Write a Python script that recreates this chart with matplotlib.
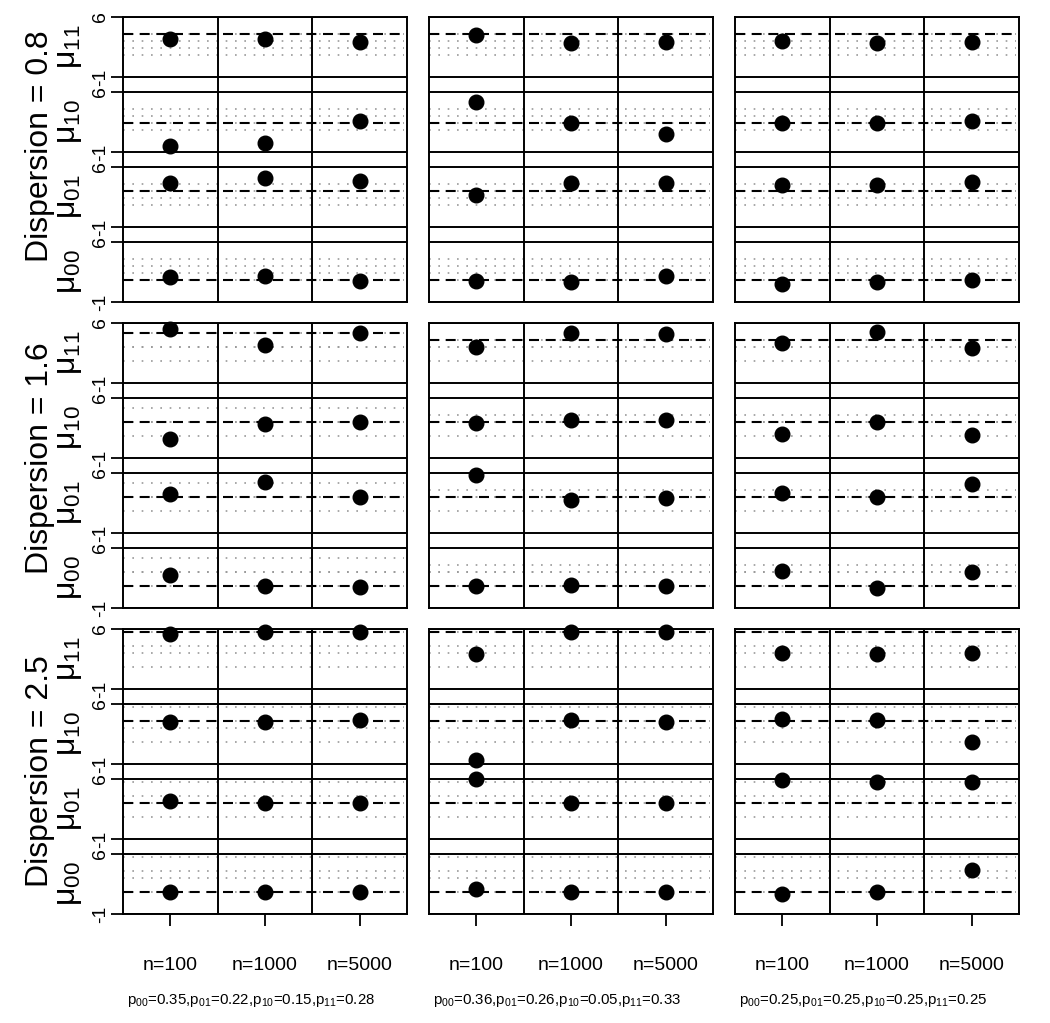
import matplotlib
matplotlib.use("Agg")
import matplotlib.pyplot as plt
import matplotlib.transforms as mtransforms

plt.rcParams["font.family"] = ["Liberation Sans", "DejaVu Sans"]
plt.rcParams["mathtext.fontset"] = "custom"
plt.rcParams["mathtext.rm"] = "Liberation Sans"

# labels
dispersions = ["0.8", "1.6", "2.5"]
n_labels = ["n=100", "n=1000", "n=5000"]
mu_labels = ["00", "01", "10", "11"]
configs = [
    ["0.35", "0.22", "0.15", "0.28"],
    ["0.36", "0.26", "0.05", "0.33"],
    ["0.25", "0.25", "0.25", "0.25"],
]

# true values, order: mu00, mu01, mu10, mu11
truth_08 = [[1.62, 3.2, 2.4, 4.02], [1.62, 3.2, 2.4, 4.02], [1.62, 3.2, 2.4, 4.02]]
truth_16 = [[1.62, 3.2, 3.2, 4.82], [1.62, 3.2, 3.2, 4.02], [1.62, 3.2, 3.2, 4.02]]
truth_25 = [[1.62, 3.2, 4.02, 5.64], [1.62, 3.2, 4.02, 5.64], [1.62, 3.2, 4.02, 5.64]]

# estimates: rows mu00, mu01, mu10, mu11; columns n=100, 1000, 5000
est_08_a = [[1.87, 1.98, 1.47], [4.15, 4.74, 4.31], [-0.30, 0.02, 2.57], [3.40, 3.40, 3.05]]
est_08_b = [[1.47, 1.39, 1.98], [2.77, 4.11, 4.11], [4.78, 2.34, 1.08], [3.91, 2.93, 3.05]]
est_08_c = [[1.08, 1.28, 1.59], [3.95, 3.91, 4.23], [2.34, 2.42, 2.66], [3.20, 2.93, 3.13]]

est_16_a = [[2.81, 1.59, 1.47], [3.60, 4.94, 3.17], [1.24, 2.93, 3.24], [5.29, 3.40, 4.82]]
est_16_b = [[1.59, 1.67, 1.59], [5.72, 2.85, 3.13], [3.05, 3.44, 3.40], [3.24, 4.78, 4.70]]
est_16_c = [[3.32, 1.39, 3.24], [3.72, 3.17, 4.74], [1.75, 3.20, 1.67], [3.64, 4.98, 3.13]]

est_25_a = [[1.60, 1.60, 1.60], [3.47, 3.24, 3.24], [3.90, 3.90, 4.09], [5.42, 5.65, 5.65]]
est_25_b = [[1.95, 1.60, 1.60], [6.00, 3.20, 3.20], [-0.50, 4.10, 3.95], [3.08, 5.65, 5.65]]
est_25_c = [[1.28, 1.55, 4.19], [5.92, 5.65, 5.65], [4.30, 4.15, 1.59], [3.24, 3.13, 3.17]]

truths = [truth_08, truth_16, truth_25]
estimates = [[est_08_a, est_08_b, est_08_c],
             [est_16_a, est_16_b, est_16_c],
             [est_25_a, est_25_b, est_25_c]]

W, H = 1050, 1023
fig = plt.figure(figsize=(W / 100, H / 100), dpi=100)

lefts = [123, 429, 735]
tops = [17, 323, 629]
pw, ph = 284, 285
ylo, yhi = -1, 6
gap = 1.75
step = (yhi - ylo) + gap
disp_y = [146, 458, 771]

for r in range(3):
    for c in range(3):
        ax = fig.add_axes([lefts[c] / W, 1 - (tops[r] + ph) / H, pw / W, ph / H])
        ax.set_xlim(0.5, 3.5)
        ax.set_ylim(ylo, 3 * step + yhi)
        for s in ax.spines.values():
            s.set_linewidth(1.4)
        tv = truths[r][c]
        est = estimates[r][c]
        for k in range(4):
            off = k * step
            ax.axhline(off + ylo, color="black", lw=1.4)
            ax.axhline(off + yhi, color="black", lw=1.4)
            for v in tv:
                ax.plot([0.5, 3.47], [off + v, off + v], color="#999999",
                        lw=1.2, linestyle=(0, (1, 4.6)))
            ax.plot([0.5, 3.47], [off + tv[k], off + tv[k]], color="black",
                    lw=1.5, linestyle=(0, (4.8, 3.2)))
            ax.plot([1, 2, 3], [off + e for e in est[k]], "o", color="black",
                    markersize=10.5, clip_on=False, zorder=5)
        ax.axvline(1.5, color="black", lw=1.4)
        ax.axvline(2.5, color="black", lw=1.4)

        yt = []
        for k in range(4):
            yt += [k * step + ylo, k * step + yhi]
        if c == 0:
            ax.set_yticks(yt)
            ax.set_yticklabels([])
            ax.tick_params(axis="y", length=8.6, width=1.3)
            tr = mtransforms.blended_transform_factory(ax.transAxes, ax.transData)
            for k in range(4):
                ax.text(-0.08, k * step + ylo, "-1", rotation=90, ha="center",
                        va="center", fontsize=14, transform=tr)
                ax.text(-0.08, k * step + yhi, "6", rotation=90, ha="center",
                        va="center", fontsize=14, transform=tr)
                yc = tops[r] + ph * (1 - (k * step + 2.5 - ylo) / (3 * step + yhi - ylo))
                fig.text(69 / W, 1 - yc / H, "μ$_\\mathregular{%s}$" % mu_labels[k],
                         rotation=90, ha="center", va="center", fontsize=23)
        else:
            ax.set_yticks([])

        if r == 2:
            ax.set_xticks([1, 2, 3])
            ax.set_xticklabels([])
            ax.tick_params(axis="x", length=8.6, width=1.3)
            trx = mtransforms.blended_transform_factory(ax.transData, ax.transAxes)
            for i, lab in enumerate(n_labels):
                ax.text(i + 1, -0.182, lab, ha="center", va="center",
                        fontsize=14, transform=trx)
            p = configs[c]
            plab = ",".join("p$_\\mathregular{%s}$=%s" % (m, v) for m, v in zip(mu_labels, p))
            ax.text(0.45, -0.305, plab, ha="center", va="center", fontsize=10.8,
                    transform=ax.transAxes)
        else:
            ax.set_xticks([])

    fig.text(40 / W, 1 - disp_y[r] / H, "Dispersion = " + dispersions[r],
             rotation=90, ha="center", va="center", fontsize=23)

fig.savefig("out.png", dpi=100)
